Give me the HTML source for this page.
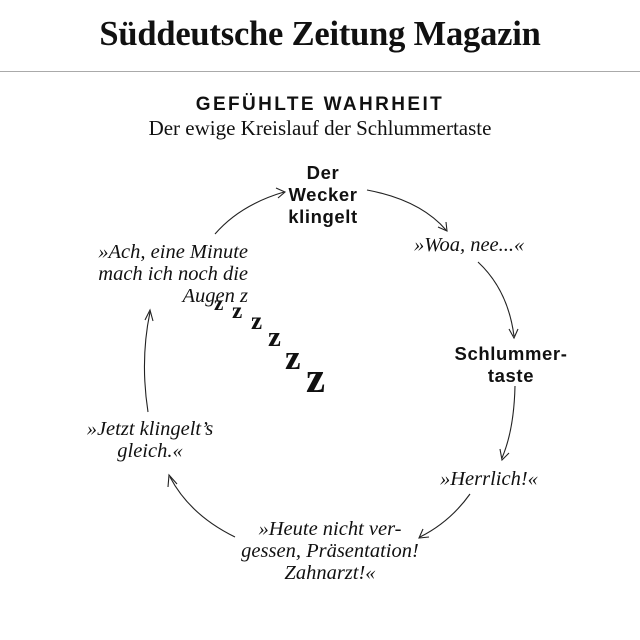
<!DOCTYPE html>
<html><head><meta charset="utf-8"><style>
body{margin:0;width:640px;height:640px;background:#fff;overflow:hidden;position:relative;color:#111}
.a{position:absolute;white-space:nowrap}
.s{font-family:"Liberation Serif",serif;font-style:italic;font-size:20.5px;line-height:22px}
.b{font-family:"Liberation Sans",sans-serif;font-weight:bold;font-size:18.5px;letter-spacing:0.6px;line-height:22px;text-align:center}
</style></head><body>
<div class="a" style="left:0;width:640px;top:15px;text-align:center;font-family:'Liberation Serif',serif;font-weight:bold;font-size:34.5px;letter-spacing:-0.2px">Süddeutsche Zeitung Magazin</div>
<div class="a" style="left:0;top:71px;width:640px;height:1px;background:#aaa"></div>
<div class="a" style="left:0;width:640px;top:94px;text-align:center;font-family:'Liberation Sans',sans-serif;font-weight:bold;font-size:19px;letter-spacing:2.4px">GEFÜHLTE WAHRHEIT</div>
<div class="a" style="left:0;width:640px;top:116px;text-align:center;font-family:'Liberation Serif',serif;font-size:21px">Der ewige Kreislauf der Schlummertaste</div>

<div class="a b" style="left:263px;width:120px;top:162px">Der<br>Wecker<br>klingelt</div>
<div class="a s" style="left:414px;top:234px">»Woa, nee...«</div>
<div class="a b" style="left:446px;width:130px;top:343px">Schlummer-<br>taste</div>
<div class="a s" style="left:440px;top:468px">»Herrlich!«</div>
<div class="a s" style="left:210px;width:240px;top:518px;text-align:center">»Heute nicht ver-<br>gessen, Präsentation!<br>Zahnarzt!«</div>
<div class="a s" style="left:70px;width:160px;top:418px;text-align:center">»Jetzt klingelt’s<br>gleich.«</div>
<div class="a s" style="left:40px;width:208px;top:241px;text-align:right">»Ach, eine Minute<br>mach ich noch die<br>Augen z</div>

<svg class="a" style="left:0;top:0" width="640" height="640" viewBox="0 0 640 640">
<g font-family="Liberation Serif,serif" fill="#111" font-weight="bold">
<text x="214" y="310" font-size="21">z</text>
<text x="232" y="318" font-size="23">z</text>
<text x="251" y="329" font-size="25">z</text>
<text x="268" y="346" font-size="29">z</text>
<text x="285" y="369" font-size="35">z</text>
<text x="306" y="392" font-size="43">z</text>
</g>
<g fill="none" stroke="#222" stroke-width="1.1">
<path d="M215 234 Q240 205 284 192"/><path d="M276 188 L285 192 L278 198"/>
<path d="M367 190 Q420 200 446 230"/><path d="M438 227 L447 231 L446 222"/>
<path d="M478 262 Q508 290 514 336"/><path d="M509 329 L514 338 L518 329"/>
<path d="M515 386 Q514 430 502 458"/><path d="M500 449 L502 460 L509 453"/>
<path d="M470 494 Q450 522 420 537"/><path d="M423 529 L419 538 L429 537"/>
<path d="M235 537 Q190 515 170 477"/><path d="M168 487 L169 475 L177 484"/>
<path d="M148 412 Q140 360 150 312"/><path d="M145 320 L150 310 L153 321"/>
</g>
</svg>
</body></html>
